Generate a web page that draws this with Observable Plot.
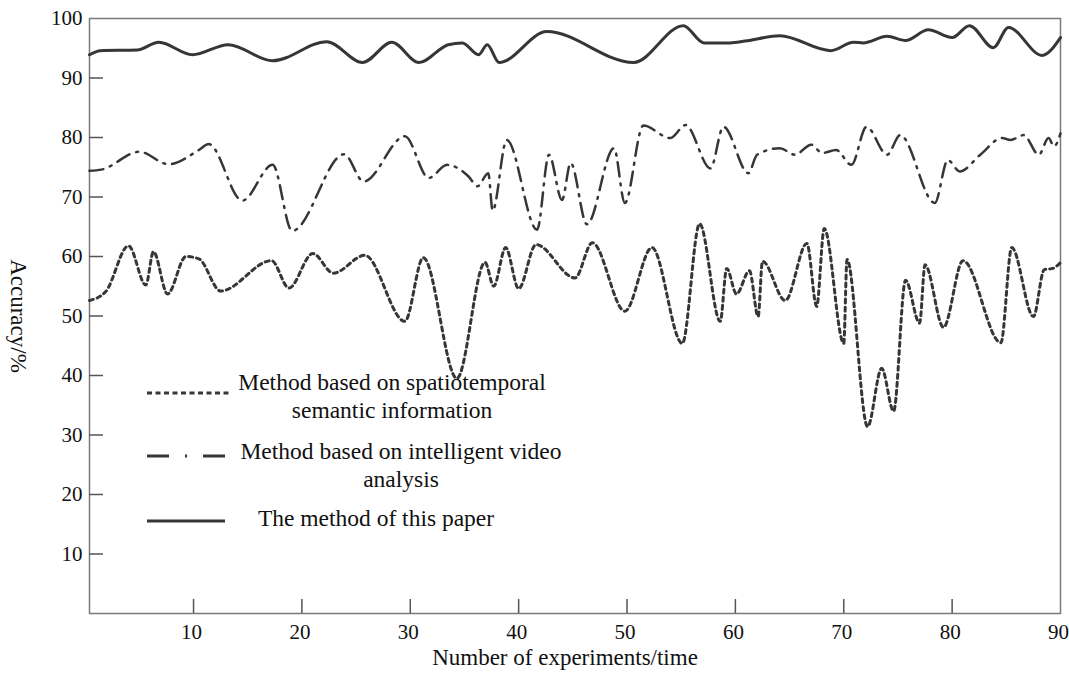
<!DOCTYPE html>
<html>
<head>
<meta charset="utf-8">
<script src="https://cdn.jsdelivr.net/npm/d3@7"></script>
<script src="https://cdn.jsdelivr.net/npm/@observablehq/plot@0.6"></script>
<style>
  html, body { margin: 0; padding: 0; background: #fff; }
  #wrap { position: relative; width: 1069px; height: 678px; }
  #legend { position: absolute; left: 0; top: 0; pointer-events: none; }
</style>
</head>
<body>
<div id="wrap"></div>
<script>
// ---- Data ----
const solidX = [0.4, 1.4, 4.8, 6.8, 9.9, 13.2, 17.3, 22.3, 25.6, 28.3, 30.8, 33.5, 34.8, 36.3, 37.1, 38.2, 42.6, 50.6, 55.2, 57.1, 59.5, 60.9, 64.1, 68.8, 70.9, 71.8, 74.0, 75.7, 77.8, 80.0, 81.6, 83.8, 85.2, 88.3, 90];
const solidY = [93.9, 94.6, 94.7, 96.0, 93.9, 95.6, 92.9, 96.1, 92.6, 96.0, 92.6, 95.6, 95.9, 93.9, 95.6, 92.6, 97.8, 92.6, 98.8, 95.9, 95.9, 96.2, 97.1, 94.6, 96.0, 95.9, 97.0, 96.3, 98.1, 96.8, 98.8, 95.1, 98.5, 93.8, 96.8];

const dashDotX = [0.4, 1.5, 5.0, 7.7, 10.5, 11.4, 14.5, 17.3, 19.1, 23.9, 25.7, 29.5, 31.7, 33.4, 35.4, 36.2, 37.2, 37.6, 38.9, 41.7, 42.8, 44.0, 44.8, 46.3, 48.8, 49.8, 51.5, 54.0, 55.4, 57.7, 58.9, 61.2, 62.0, 64.1, 65.5, 67.0, 68.0, 69.3, 70.7, 72.1, 74.0, 75.2, 78.4, 79.6, 80.7, 82.6, 84.6, 85.4, 86.6, 88.0, 88.9, 89.4, 90];
const dashDotY = [74.4, 74.6, 77.6, 75.5, 77.9, 78.9, 69.4, 75.4, 64.3, 77.2, 72.6, 80.2, 73.2, 75.4, 73.4, 71.8, 74.0, 67.7, 79.6, 64.5, 77.1, 69.5, 75.7, 65.4, 78.2, 69.0, 82.0, 79.9, 82.1, 74.8, 81.8, 74.0, 77.1, 78.2, 77.1, 78.8, 77.4, 77.9, 75.4, 81.8, 77.1, 80.4, 69.0, 76.2, 74.3, 77.1, 79.9, 79.6, 80.4, 77.1, 79.9, 78.5, 80.7];

const dottedX = [0.4, 1.9, 4.0, 5.6, 6.3, 7.6, 9.3, 10.5, 12.5, 17.2, 18.8, 21.0, 22.9, 25.8, 29.5, 31.2, 34.3, 36.9, 37.7, 38.8, 40.0, 41.6, 45.2, 46.8, 49.8, 52.3, 55.1, 56.7, 58.6, 59.2, 60.1, 61.3, 62.1, 62.5, 64.6, 66.6, 67.5, 68.2, 70.0, 70.3, 72.2, 73.5, 74.6, 75.7, 77.0, 77.5, 79.2, 81.0, 84.5, 85.5, 87.5, 88.5, 89.3, 90];
const dottedY = [52.6, 54.1, 61.8, 55.2, 60.8, 53.7, 60.0, 59.6, 54.2, 59.3, 54.7, 60.5, 57.2, 60.2, 49.1, 59.8, 39.5, 59.0, 55.0, 61.5, 54.6, 62.0, 56.4, 62.3, 50.8, 61.5, 45.4, 65.5, 49.1, 58.0, 53.7, 57.6, 49.9, 59.2, 52.6, 62.2, 51.6, 64.7, 45.4, 59.5, 31.4, 41.2, 34.0, 56.0, 48.8, 58.6, 48.1, 59.3, 45.5, 61.5, 49.9, 57.8, 58.0, 59.0];

const xTicks = [10, 20, 30, 40, 50, 60, 70, 80, 90];
const yTicks = [10, 20, 30, 40, 50, 60, 70, 80, 90, 100];

const legendLines = [
  ["Method based on spatiotemporal", "semantic information"],
  ["Method based on intelligent video", "analysis"],
  ["The method of this paper"]
];

const xLabel = "Number of experiments/time";
const yLabel = "Accuracy/%";

// ---- Build ----
const toRows = (xs, ys) => xs.map((x, i) => ({x, y: ys[i]}));
const solidRows = toRows(solidX, solidY);
const dashDotRows = toRows(dashDotX, dashDotY);
const dottedRows = toRows(dottedX, dottedY);

const W = 1069, H = 678;
const mL = 89, mR = 9, mT = 18, mB = 65;
const plotW = W - mL - mR, plotH = H - mT - mB;
const tickLen = 14;
const ink = "#363636";
const font = "'Liberation Serif', 'Times New Roman', serif";

const chart = Plot.plot({
  width: W,
  height: H,
  marginLeft: mL,
  marginRight: mR,
  marginTop: mT,
  marginBottom: mB,
  style: {fontFamily: font, fontSize: "21px", color: "#111", background: "#fff", overflow: "visible"},
  x: {domain: [0.4, 90]},
  y: {domain: [0, 100]},
  marks: [
    Plot.frame({stroke: "#7a7a7a", strokeWidth: 1.5}),
    Plot.tickY(yTicks.filter(d => d < 100), {y: d => d, stroke: "#555", strokeWidth: 1.5, insetRight: plotW - tickLen}),
    Plot.tickX(xTicks.filter(d => d < 90), {x: d => d, stroke: "#555", strokeWidth: 1.5, insetTop: plotH - tickLen}),
    Plot.axisX(xTicks, {tickSize: 0, tickPadding: 11, fontSize: 21, dx: -2, label: null}),
    Plot.axisY(yTicks, {tickSize: 0, tickPadding: 7, fontSize: 21, label: null}),
    Plot.text([xLabel], {frameAnchor: "bottom", dy: 51, fontSize: 23, dx: -10, fill: "#111"}),
    Plot.text([yLabel], {frameAnchor: "left", textAnchor: "middle", dx: -71, rotate: 90, fontSize: 23, fill: "#111"}),
    Plot.line(dottedRows, {x: "x", y: "y", curve: "monotone-x", stroke: ink, strokeWidth: 3, strokeDasharray: "4,4"}),
    Plot.line(dashDotRows, {x: "x", y: "y", curve: "monotone-x", stroke: ink, strokeWidth: 2.5, strokeDasharray: "14,7,2,7"}),
    Plot.line(solidRows, {x: "x", y: "y", curve: "monotone-x", stroke: ink, strokeWidth: 3})
  ]
});

const wrap = document.getElementById("wrap");
wrap.appendChild(chart);

// ---- Legend overlay inside the plot area ----
const legendDash = ["5,3.5", "22,16,2,16", null];
const legendSampleY = [393, 456, 521];
const legendTextY = [[385, 413], [454, 482], [521]];
const legendTextX = [392, 401, 376];
const legendSampleX = [[147, 232], [147, 225], [147, 225]];

const svg = d3.select(wrap).append("svg")
  .attr("id", "legend")
  .attr("width", W).attr("height", H)
  .attr("font-family", font)
  .attr("font-size", 23.5);

legendLines.forEach((lines, i) => {
  const g = svg.append("g");
  g.append("line")
    .attr("x1", legendSampleX[i][0]).attr("x2", legendSampleX[i][1])
    .attr("y1", legendSampleY[i]).attr("y2", legendSampleY[i])
    .attr("stroke", ink).attr("stroke-width", 3)
    .attr("stroke-dasharray", legendDash[i]);
  lines.forEach((t, j) => {
    g.append("text")
      .attr("x", legendTextX[i]).attr("y", legendTextY[i][j])
      .attr("text-anchor", "middle").attr("dominant-baseline", "middle")
      .attr("fill", "#111")
      .text(t);
  });
});
</script>
</body>
</html>
